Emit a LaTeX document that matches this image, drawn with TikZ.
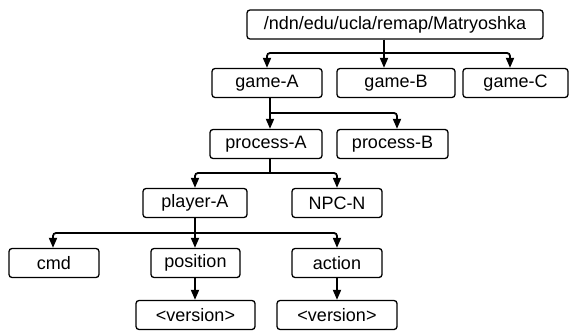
\documentclass[tikz,border=0pt]{standalone}
\usepackage{fontspec}
\setmainfont{Liberation Sans}
\usetikzlibrary{arrows.meta}
\begin{document}
\begin{tikzpicture}[x=1pt,y=-1pt,
  box/.style={draw,line width=1.3pt,rounded corners=3pt,inner sep=0pt,minimum height=29pt,font=\fontsize{18}{20}\selectfont},
  conn/.style={line width=1.8pt,rounded corners=3pt},
  arr/.style={conn,-{Triangle[width=8pt,length=10pt]}}]
\useasboundingbox (0,0) rectangle (572,331);
\node[box,minimum width=296pt] (root) at (395,24.5) {/ndn/edu/ucla/remap/Matryoshka};
\node[box,minimum width=110pt] (gameA) at (267,83) {game-A};
\node[box,minimum width=118pt] (gameB) at (396,83) {game-B};
\node[box,minimum width=105pt] (gameC) at (515.5,83) {game-C};
\node[box,minimum width=112pt] (procA) at (266,144) {process-A};
\node[box,minimum width=111pt] (procB) at (392.5,144) {process-B};
\node[box,minimum width=104pt] (playerA) at (195,203) {player-A};
\node[box,minimum width=90pt] (npc) at (337,203) {NPC-N};
\node[box,minimum width=90pt] (cmd) at (54,263) {cmd};
\node[box,minimum width=89pt] (position) at (195.5,263) {position};
\node[box,minimum width=90pt] (action) at (337,263) {action};
\node[box,minimum width=119pt] (ver1) at (195.5,315) {<version>};
\node[box,minimum width=120pt] (ver2) at (337,315) {<version>};
% root -> games
\coordinate (j1) at (384,53);
\draw[conn] (root.south -| j1) -- (j1);
\draw[arr] (j1) -| (gameA.north);
\draw[arr] (j1) -- (j1 |- gameB.north);
\draw[arr] (j1) -| ([xshift=-5.5pt]gameC.north);
% gameA -> processes
\coordinate (j2) at (270,113);
\draw[conn] (gameA.south -| j2) -- (j2);
\draw[arr] (j2) -- (j2 |- procA.north);
\draw[arr] (j2) -| ([xshift=4.5pt]procB.north);
% procA -> player/NPC
\coordinate (j3) at (270,173);
\draw[conn] (procA.south -| j3) -- (j3);
\draw[arr] (j3) -| (playerA.north);
\draw[arr] (j3) -| (npc.north);
% playerA -> cmd/position/action
\coordinate (j4) at (195,233);
\draw[conn] (playerA.south) -- (j4);
\draw[arr] (j4) -| ([xshift=-1pt]cmd.north);
\draw[arr] (j4) -- (j4 |- position.north);
\draw[arr] (j4) -| (action.north);
% versions
\draw[arr] (position.south -| j4) -- (ver1.north -| j4);
\draw[arr] (action.south) -- (ver2.north);
\end{tikzpicture}
\end{document}
